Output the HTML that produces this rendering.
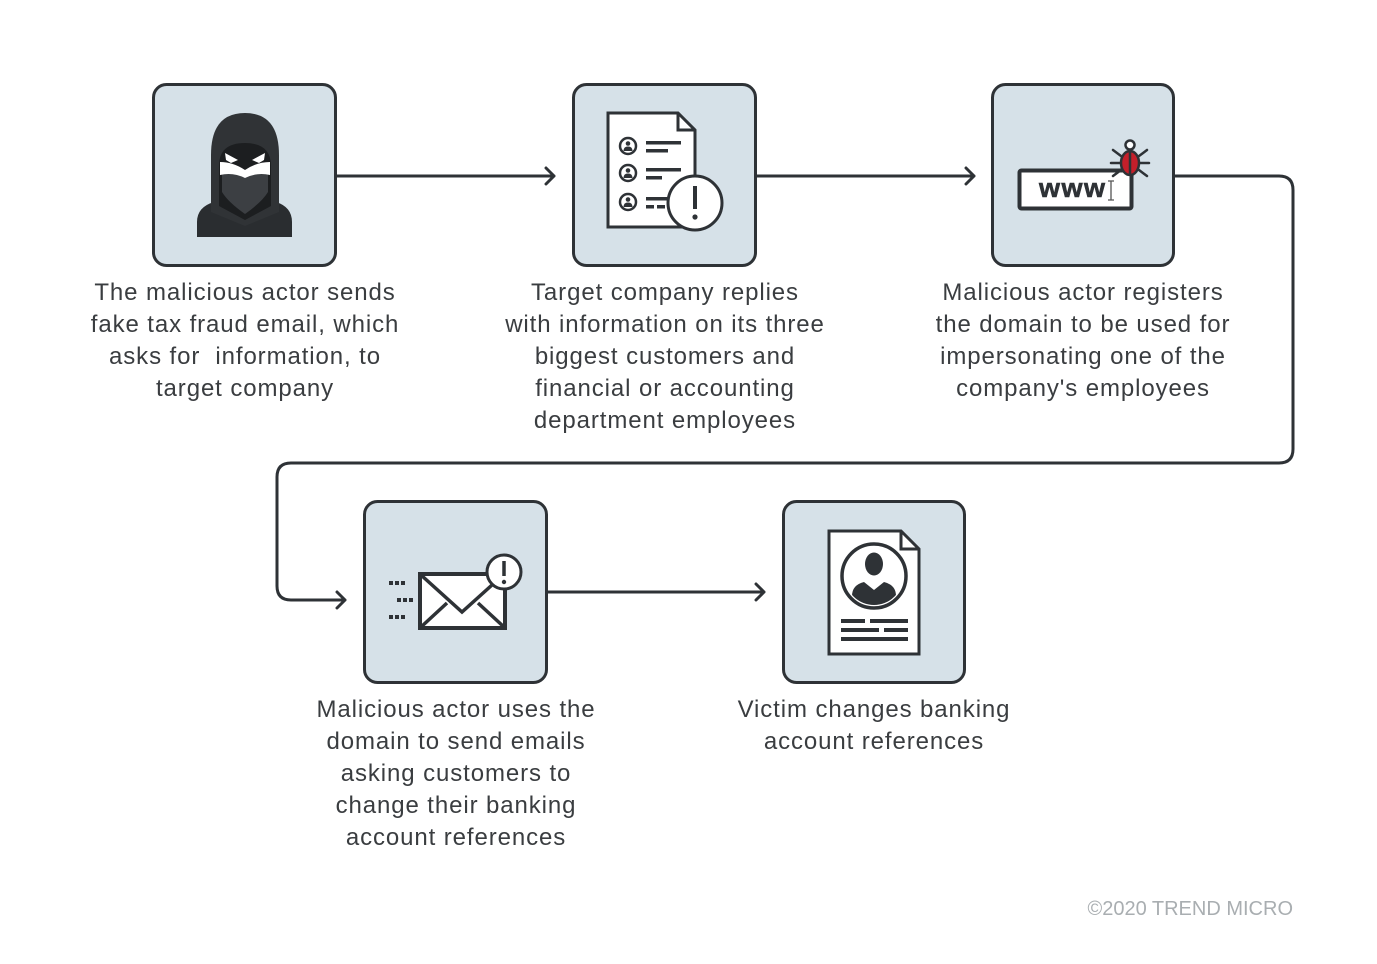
<!DOCTYPE html>
<html><head><meta charset="utf-8">
<style>
html,body{margin:0;padding:0;background:#fff;}
svg{display:block;}
.t{font-family:"Liberation Sans",sans-serif;font-size:24px;fill:#3a3d40;letter-spacing:0.9px;text-anchor:middle;}
</style></head>
<body>
<svg width="1377" height="964" viewBox="0 0 1377 964" xmlns="http://www.w3.org/2000/svg">
<rect width="1377" height="964" fill="#fff"/>
<g fill="#d6e1e8" stroke="#2e3236" stroke-width="3">
<rect x="153.5" y="84.5" width="182" height="181" rx="13"/>
<rect x="573.5" y="84.5" width="182" height="181" rx="13"/>
<rect x="992.5" y="84.5" width="181" height="181" rx="13"/>
<rect x="364.5" y="501.5" width="182" height="181" rx="13"/>
<rect x="783.5" y="501.5" width="181" height="181" rx="13"/>
</g>
<g fill="none" stroke="#2e3236" stroke-width="3" stroke-linecap="round" stroke-linejoin="round">
<path d="M337 176 H554 M546 168 L554 176 L546 184"/>
<path d="M757 176 H974 M966 168 L974 176 L966 184"/>
<path d="M1175 176 H1279 Q1293 176 1293 190 V449 Q1293 463 1279 463 H291 Q277 463 277 477 V586 Q277 600 291 600 H345 M337 592 L345 600 L337 608"/>
<path d="M548 592 H764 M756 584 L764 592 L756 600"/>
</g>
<!-- hacker -->
<g>
<path d="M197 237 V222 Q197 207 214 202 L232 196 H258 L276 202 Q292 207 292 222 V237 Z" fill="#2a2d30"/>
<path d="M211 212 V155 Q211 113 245 113 Q279 113 279 155 V212 L245 226 Z" fill="#303336"/>
<path d="M219 206 V166 Q219 143 245 143 Q271 143 271 166 V206 L245 220 Z" fill="#1c1e20"/>
<path d="M222 172 H268 V192 Q262 202 245 214 Q228 202 222 192 Z" fill="#3c3f43"/>
<path d="M220 162 Q233 162 245 170 Q257 162 270 162 V175 Q257 172 245 178 Q233 172 220 175 Z" fill="#fff"/>
<path d="M225 153 L238 160 L231 163 L226 160 Z M265 153 L252 160 L259 163 L264 160 Z" fill="#fff"/>
</g>
<!-- doc icon -->
<g stroke="#2e3236" stroke-width="3" fill="#fff">
<path d="M608 113 H678 L695 130 V227 H608 Z"/>
<path d="M678 113 V130 H695" fill="none"/>
<circle cx="628" cy="146" r="8" stroke-width="2.5"/>
<circle cx="628" cy="173" r="8" stroke-width="2.5"/>
<circle cx="628" cy="202" r="8" stroke-width="2.5"/>
</g>
<g fill="#2e3236">
<circle cx="628" cy="143.5" r="2.3"/><path d="M623.5 151 Q623.5 146.5 628 146.5 Q632.5 146.5 632.5 151 Z"/>
<circle cx="628" cy="170.5" r="2.3"/><path d="M623.5 178 Q623.5 173.5 628 173.5 Q632.5 173.5 632.5 178 Z"/>
<circle cx="628" cy="199.5" r="2.3"/><path d="M623.5 207 Q623.5 202.5 628 202.5 Q632.5 202.5 632.5 207 Z"/>
<rect x="646" y="141" width="35" height="3.5"/><rect x="646" y="149" width="22" height="3.5"/>
<rect x="646" y="168" width="35" height="3.5"/><rect x="646" y="176" width="16" height="3.5"/>
<rect x="646" y="197" width="22" height="3.5"/><rect x="646" y="205" width="8" height="3.5"/><rect x="657" y="205" width="8" height="3.5"/>
</g>
<circle cx="695" cy="203" r="27" fill="#fff" stroke="#2e3236" stroke-width="3"/>
<path d="M695 186 V209" stroke="#2e3236" stroke-width="4"/>
<circle cx="695" cy="217" r="2.6" fill="#2e3236"/>
<!-- www icon -->
<rect x="1019.5" y="170.5" width="112" height="38" rx="2" fill="#fff" stroke="#2e3236" stroke-width="4"/>
<text x="1039" y="197" font-family="Liberation Sans,sans-serif" font-weight="bold" font-size="27" letter-spacing="1.5" fill="#2e3236" stroke="#2e3236" stroke-width="0.6">www</text>
<path d="M1111 181 V200 M1108 181 H1114 M1108 200 H1114" stroke="#555" stroke-width="1.3" fill="none"/>
<g stroke="#2e3236" stroke-width="2.5" fill="none" stroke-linecap="round">
<path d="M1113 150 L1121 156 M1147 150 L1139 156 M1111 163 H1149 M1113 176 L1121 170 M1147 176 L1139 170"/>
</g>
<circle cx="1130" cy="145" r="4.5" fill="#fff" stroke="#2e3236" stroke-width="2.5"/>
<ellipse cx="1130" cy="163" rx="9" ry="12" fill="#c41f2a" stroke="#2e3236" stroke-width="2.5"/>
<path d="M1130 152 V175" stroke="#2e3236" stroke-width="2.5"/>
<!-- envelope -->
<g fill="#2e3236">
<rect x="389" y="581" width="4" height="4"/><rect x="395" y="581" width="4" height="4"/><rect x="401" y="581" width="4" height="4"/>
<rect x="397" y="598" width="4" height="4"/><rect x="403" y="598" width="4" height="4"/><rect x="409" y="598" width="4" height="4"/>
<rect x="389" y="615" width="4" height="4"/><rect x="395" y="615" width="4" height="4"/><rect x="401" y="615" width="4" height="4"/>
</g>
<rect x="420" y="574" width="85" height="54" fill="#fff" stroke="#2e3236" stroke-width="4"/>
<path d="M421 575 L462 612 L492 585 M421 627 L447 603 M504 627 L478 603" stroke="#2e3236" stroke-width="3.5" fill="none"/>
<circle cx="504" cy="572" r="17" fill="#fff" stroke="#2e3236" stroke-width="3"/>
<path d="M504 561 V576" stroke="#2e3236" stroke-width="3.5"/>
<circle cx="504" cy="582" r="2.2" fill="#2e3236"/>
<!-- resume doc -->
<path d="M829 531 H901 L919 549 V654 H829 Z" fill="#fff" stroke="#2e3236" stroke-width="3"/>
<path d="M901 531 V549 H919" fill="none" stroke="#2e3236" stroke-width="3"/>
<circle cx="874" cy="576" r="32" fill="#fff" stroke="#2e3236" stroke-width="3.5"/>
<clipPath id="cc"><circle cx="874" cy="576" r="29"/></clipPath>
<g clip-path="url(#cc)" fill="#2e3236">
<ellipse cx="874" cy="564" rx="9" ry="11.5"/>
<path d="M852 605 V596 Q852 585 864 582 L874 590 L884 582 Q896 585 896 596 V605 Z"/>
</g>
<g fill="#2e3236">
<rect x="841" y="619" width="24" height="4"/><rect x="870" y="619" width="38" height="4"/>
<rect x="841" y="628" width="38" height="4"/><rect x="884" y="628" width="24" height="4"/>
<rect x="841" y="637" width="67" height="4"/>
</g>
<!-- texts -->
<text class="t" x="245" y="300">The malicious actor sends</text>
<text class="t" x="245" y="332">fake tax fraud email, which</text>
<text class="t" x="245" y="364" xml:space="preserve">asks for  information, to</text>
<text class="t" x="245" y="396">target company</text>

<text class="t" x="665" y="300">Target company replies</text>
<text class="t" x="665" y="332">with information on its three</text>
<text class="t" x="665" y="364">biggest customers and</text>
<text class="t" x="665" y="396">financial or accounting</text>
<text class="t" x="665" y="428">department employees</text>

<text class="t" x="1083" y="300">Malicious actor registers</text>
<text class="t" x="1083" y="332">the domain to be used for</text>
<text class="t" x="1083" y="364">impersonating one of the</text>
<text class="t" x="1083" y="396">company's employees</text>

<text class="t" x="456" y="717">Malicious actor uses the</text>
<text class="t" x="456" y="749">domain to send emails</text>
<text class="t" x="456" y="781">asking customers to</text>
<text class="t" x="456" y="813">change their banking</text>
<text class="t" x="456" y="845">account references</text>

<text class="t" x="874" y="717">Victim changes banking</text>
<text class="t" x="874" y="749">account references</text>

<text x="1293" y="915" text-anchor="end" font-family="Liberation Sans,sans-serif" font-size="20" fill="#a9aeb1">©2020 TREND MICRO</text>
</svg>
</body></html>
